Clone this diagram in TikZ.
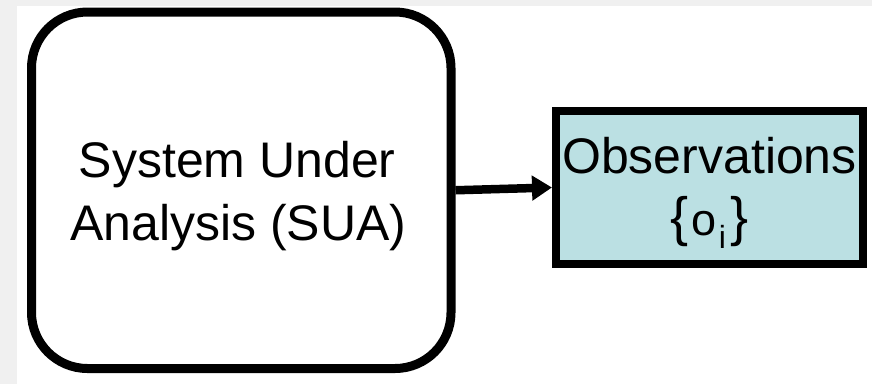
\documentclass[tikz,border=0pt]{standalone}
\usepackage{fontspec}
\setmainfont{Liberation Sans}
\usetikzlibrary{arrows.meta}
\definecolor{bggray}{HTML}{F0F0F0}
\definecolor{obsfill}{HTML}{BBE0E3}
\begin{document}
\begin{tikzpicture}[x=1pt,y=-1pt,
  suabox/.style={draw=black, line width=9pt, rounded corners=56pt, fill=white,
    minimum width=419.5pt, minimum height=356.5pt, inner sep=0pt, align=center,
    font=\fontsize{50}{63}\selectfont},
  obsbox/.style={draw=black, line width=8pt, fill=obsfill,
    minimum width=307pt, minimum height=153pt, inner sep=0pt, align=center,
    font=\fontsize{50}{62}\selectfont},
  conn/.style={line width=8.5pt, -{Triangle[length=20pt,width=24pt]}}]
\useasboundingbox (0,0) rectangle (872,384);
\fill[bggray] (0,0) rectangle (872,384);
\fill[white] (17,6) rectangle (872,384);
\node[suabox] (sua) at (241.25,190.25)
  {\rule{0pt}{47.5pt}System Under\hspace*{8pt}\\Analysis (SUA)\hspace*{6pt}\rule[-11pt]{0pt}{11pt}};
\node[obsbox] (obs) at (709.5,187.5)
  {\rule{0pt}{47pt}Observations\\{\fontsize{54}{54}\selectfont\{}\kern3pt{\fontsize{45}{45}\selectfont o}\kern2pt\raisebox{-13pt}{\fontsize{32}{32}\selectfont i}\kern4pt{\fontsize{54}{54}\selectfont\}}\rule[-14pt]{0pt}{14pt}};
\draw[conn] (sua.east) -- (obs.west);
\end{tikzpicture}
\end{document}
